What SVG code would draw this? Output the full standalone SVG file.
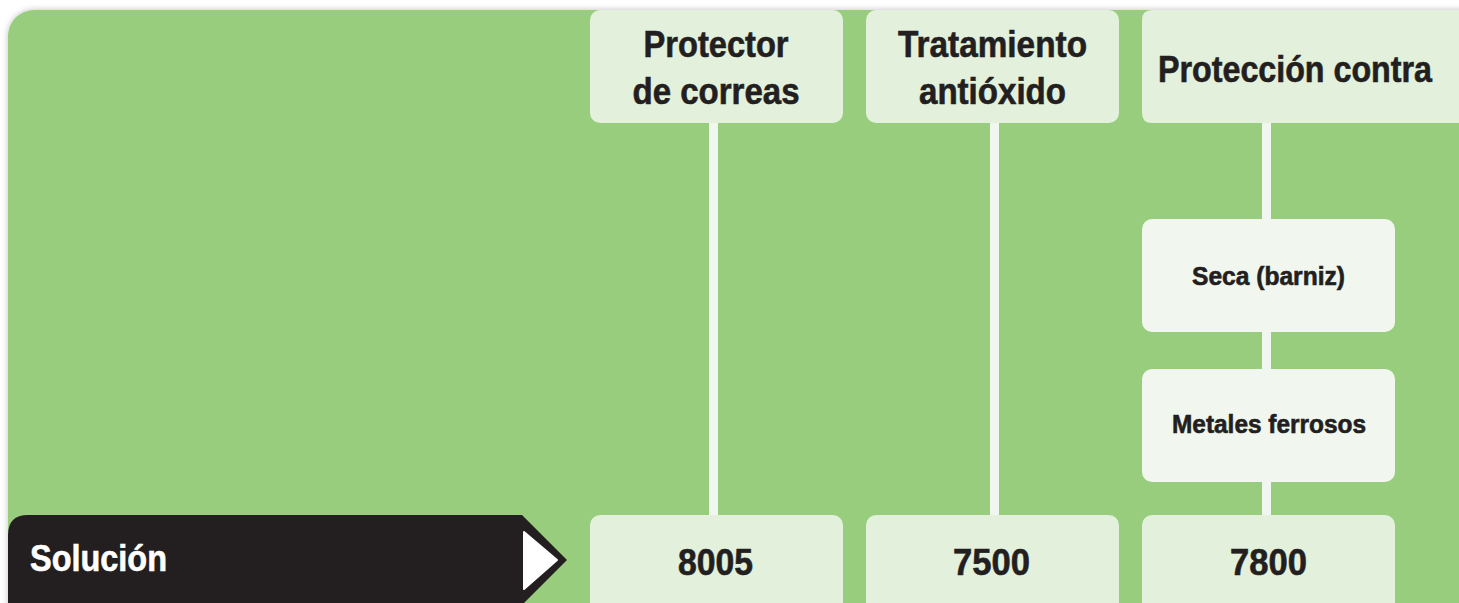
<svg xmlns="http://www.w3.org/2000/svg" width="1459" height="603" viewBox="0 0 1459 603">
<defs>
<filter id="sh" x="-5%" y="-5%" width="110%" height="110%">
<feDropShadow dx="0" dy="0" stdDeviation="3" flood-color="#000" flood-opacity="0.25"/>
</filter>
<style>
.hdr{fill:#E2F0DC}
.sub{fill:#F1F7EF}
.conn{stroke:#F1F7EF;stroke-width:9;fill:none}
.t{font-family:"Liberation Sans","Arial",sans-serif;font-weight:bold;fill:#231F20;stroke:#231F20;stroke-width:0.6;text-anchor:middle}
.big{font-size:36px}
.sm{font-size:25px}
</style>
</defs>
<rect width="1459" height="603" fill="#FFFFFF"/>
<rect x="8" y="10" width="1480" height="620" rx="26" fill="#97CD7D" filter="url(#sh)"/>
<g id="connectors">
<line class="conn" x1="713.5" y1="110" x2="713.5" y2="525"/>
<line class="conn" x1="994.5" y1="110" x2="994.5" y2="525"/>
<line class="conn" x1="1266.5" y1="110" x2="1266.5" y2="525"/>
</g>
<g id="h1">
<rect class="hdr" x="590" y="10" width="253" height="113" rx="10"/>
<text class="t big" x="716" y="57" textLength="145" lengthAdjust="spacingAndGlyphs">Protector</text>
<text class="t big" x="716" y="104" textLength="167" lengthAdjust="spacingAndGlyphs">de correas</text>
</g>
<g id="h2">
<rect class="hdr" x="866" y="10" width="253" height="113" rx="10"/>
<text class="t big" x="992.5" y="57" textLength="189" lengthAdjust="spacingAndGlyphs">Tratamiento</text>
<text class="t big" x="992.5" y="104" textLength="147" lengthAdjust="spacingAndGlyphs">antióxido</text>
</g>
<g id="h3">
<path class="hdr" d="M1152,10 H1459 V123 H1152 Q1142,123 1142,113 V20 Q1142,10 1152,10 Z"/>
<text class="t big" x="1295" y="82" textLength="274" lengthAdjust="spacingAndGlyphs">Protección contra</text>
</g>
<g id="seca">
<rect class="sub" x="1142" y="219" width="253" height="113" rx="10"/>
<text class="t sm" x="1268.5" y="285" textLength="153" lengthAdjust="spacingAndGlyphs">Seca (barniz)</text>
</g>
<g id="metales">
<rect class="sub" x="1142" y="369" width="253" height="113" rx="10"/>
<text class="t sm" x="1269" y="433" textLength="194" lengthAdjust="spacingAndGlyphs">Metales ferrosos</text>
</g>
<g id="solucion">
<path d="M28,515 H522 L567,560 L522,605 H8 V535 Q8,515 28,515 Z" fill="#231F20"/>
<path d="M524,532 L557,560 L524,589 Z" fill="#FFFFFF" stroke="#FFFFFF" stroke-width="2" stroke-linejoin="round"/>
<text x="30" y="571" font-family="Liberation Sans, Arial, sans-serif" font-weight="bold" font-size="36" fill="#FFFFFF" stroke="#FFFFFF" stroke-width="0.6" textLength="137" lengthAdjust="spacingAndGlyphs">Solución</text>
</g>
<g id="v1">
<rect class="hdr" x="590" y="515" width="253" height="110" rx="10"/>
<text class="t big" x="715.5" y="575" textLength="75" lengthAdjust="spacingAndGlyphs">8005</text>
</g>
<g id="v2">
<rect class="hdr" x="866" y="515" width="253" height="110" rx="10"/>
<text class="t big" x="991.5" y="575" textLength="77" lengthAdjust="spacingAndGlyphs">7500</text>
</g>
<g id="v3">
<rect class="hdr" x="1142" y="515" width="253" height="110" rx="10"/>
<text class="t big" x="1268.5" y="575" textLength="77" lengthAdjust="spacingAndGlyphs">7800</text>
</g>
</svg>
